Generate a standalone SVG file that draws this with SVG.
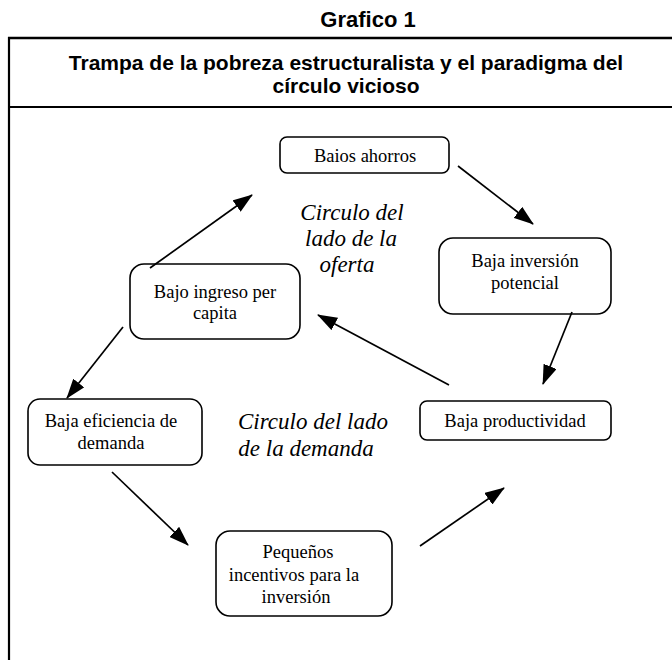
<svg xmlns="http://www.w3.org/2000/svg" width="672" height="660" viewBox="0 0 672 660">
<style>
.hd{font-family:"Liberation Sans",Arial,sans-serif;font-weight:bold;font-size:21px;fill:#000;text-anchor:middle}
.nd rect{fill:#fff;stroke:#000;stroke-width:1.6}
.nd text{font-family:"Liberation Serif","Times New Roman",serif;font-size:18.5px;fill:#000;text-anchor:middle}
.it{font-family:"Liberation Serif","Times New Roman",serif;font-style:italic;font-size:23px;fill:#000;text-anchor:middle}
.cn line{stroke:#000;stroke-width:1.7;marker-end:url(#ah)}
</style>
<defs>
<marker id="ah" viewBox="0 0 20 14" refX="19" refY="7" markerWidth="20" markerHeight="14" markerUnits="userSpaceOnUse" orient="auto">
<path d="M0,0 L20,7 L0,14 Z" fill="#000"/>
</marker>
</defs>
<rect width="672" height="660" fill="#fff"/>
<text class="hd" x="368" y="27" style="font-size:22px">Grafico 1</text>
<g id="frame" fill="none" stroke="#000">
<line x1="8" y1="38" x2="672" y2="38" stroke-width="2.5"/>
<line x1="8" y1="107" x2="672" y2="107" stroke-width="2"/>
<line x1="9" y1="37" x2="9" y2="660" stroke-width="2.2"/>
</g>
<text class="hd" x="346" y="70">Trampa de la pobreza estructuralista y el paradigma del</text>
<text class="hd" x="346" y="93">círculo vicioso</text>
<g id="n1" class="nd"><rect x="280" y="137" width="169" height="36" rx="7"/><text x="365" y="162">Baios ahorros</text></g>
<g id="n2" class="nd"><rect x="439" y="238" width="172" height="76" rx="14"/><text x="525" y="267">Baja inversión</text><text x="525" y="289">potencial</text></g>
<g id="n3" class="nd"><rect x="420" y="401" width="191" height="39" rx="7"/><text x="515" y="427">Baja productividad</text></g>
<g id="n4" class="nd"><rect x="216" y="531" width="176" height="85" rx="14"/><text x="298" y="558">Pequeños</text><text x="294" y="581">incentivos para la</text><text x="296" y="603">inversión</text></g>
<g id="n5" class="nd"><rect x="28" y="399" width="174" height="66" rx="12"/><text x="111" y="427">Baja eficiencia de</text><text x="111" y="449">demanda</text></g>
<g id="n6" class="nd"><rect x="130" y="264" width="170" height="75" rx="14"/><text x="215" y="298">Bajo ingreso per</text><text x="215" y="319">capita</text></g>
<text class="it" x="352" y="220">Circulo del</text>
<text class="it" x="351" y="246">lado de la</text>
<text class="it" x="347" y="272">oferta</text>
<text class="it" x="313" y="429">Circulo del lado</text>
<text class="it" x="306" y="456">de la demanda</text>
<g id="connectors" class="cn">
<line x1="150" y1="268" x2="252" y2="195"/>
<line x1="458" y1="166" x2="533" y2="224"/>
<line x1="572" y1="312" x2="543" y2="384"/>
<line x1="449" y1="385" x2="318" y2="315"/>
<line x1="123" y1="327" x2="67" y2="398"/>
<line x1="112" y1="472" x2="188" y2="545"/>
<line x1="420" y1="546" x2="504" y2="488"/>
</g>
</svg>
